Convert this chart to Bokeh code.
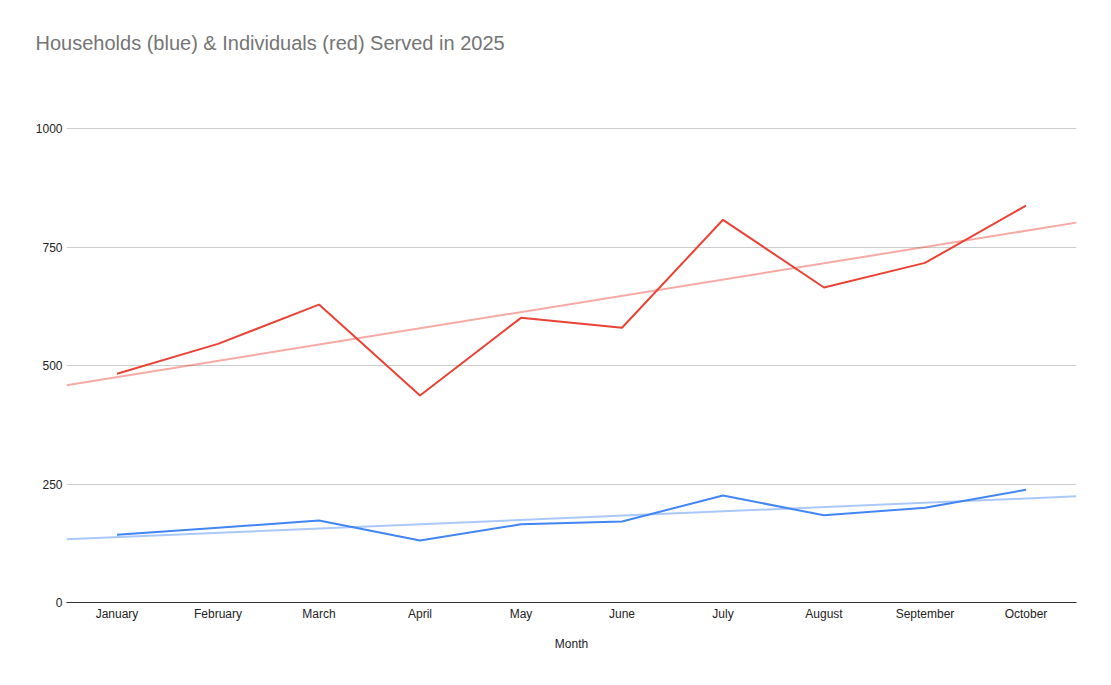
import numpy as np
from bokeh.plotting import figure
from bokeh.models import Range1d, FixedTicker, Title
from bokeh.embed import file_html
from bokeh.resources import INLINE

months = ["January", "February", "March", "April", "May", "June",
          "July", "August", "September", "October"]
households = [143, 158, 173, 131, 165, 171, 226, 184, 200, 238]
individuals = [483, 546, 629, 437, 601, 580, 808, 665, 717, 838]
y_ticks = [0, 250, 500, 750, 1000]

RED = "#ea4335"
BLUE = "#4285f4"
FONT = "Liberation Sans"

x = np.arange(len(months))
x0, x1 = -0.5, len(months) - 0.5
y0, y1 = 0, 1100

W, H = 1100, 675
LEFT, TOP, RIGHT_EDGE, BOTTOM_EDGE = 66, 81, 1076, 602
p = figure(width=W, height=H, output_backend="svg", toolbar_location=None,
           x_range=Range1d(x0, x1), y_range=Range1d(y0, y1),
           min_border_left=LEFT, min_border_right=W - RIGHT_EDGE,
           min_border_top=TOP, min_border_bottom=H - BOTTOM_EDGE)
p.outline_line_color = None
p.background_fill_color = "white"
p.border_fill_color = "white"

# trendlines (linear regression)
for vals, col in ((individuals, RED), (households, BLUE)):
    m, b = np.polyfit(x, vals, 1)
    p.line([x0, x1], [m * x0 + b, m * x1 + b], line_color=col, line_alpha=0.45,
           line_width=2)

p.line(x, individuals, line_color=RED, line_width=2)
p.line(x, households, line_color=BLUE, line_width=2)

# axes
p.xaxis.ticker = FixedTicker(ticks=list(x))
p.xaxis.major_label_overrides = {int(i): m for i, m in zip(x, months)}
p.xaxis.axis_label = "Month"
p.xaxis.axis_line_color = "#333333"
p.xaxis.major_tick_line_color = None
p.xaxis.minor_tick_line_color = None
p.xaxis.major_tick_out = 0
p.xaxis.minor_tick_out = 0
p.xaxis.major_label_standoff = 4
p.xaxis.axis_label_standoff = 13
p.xaxis.axis_label_text_font_style = "normal"

p.yaxis.ticker = FixedTicker(ticks=y_ticks)
p.yaxis.axis_line_color = None
p.yaxis.major_tick_line_color = None
p.yaxis.minor_tick_line_color = None
p.yaxis.major_tick_out = 0
p.yaxis.minor_tick_out = 0
p.yaxis.major_label_standoff = 4

for ax in (p.xaxis[0], p.yaxis[0]):
    ax.major_label_text_font = FONT
    ax.major_label_text_font_size = "12px"
    ax.major_label_text_color = "#222222"
    ax.axis_label_text_font = FONT
    ax.axis_label_text_font_size = "12px"
    ax.axis_label_text_color = "#222222"

p.xgrid.grid_line_color = None
p.ygrid.ticker = FixedTicker(ticks=y_ticks[1:])
p.ygrid.grid_line_color = "#cccccc"
p.ygrid.grid_line_width = 1

p.title.text = "Households (blue) & Individuals (red) Served in 2025"
p.title.text_font = FONT
p.title.text_font_size = "20px"
p.title.text_font_style = "normal"
p.title.text_color = "#757575"
p.title.align = "left"
p.title.offset = 35 - LEFT
try:
    p.title.standoff = 55
except Exception:
    p.add_layout(Title(text=" ", text_font_size="36px"), "above")

open("out.html", "w").write(file_html(p, INLINE))
